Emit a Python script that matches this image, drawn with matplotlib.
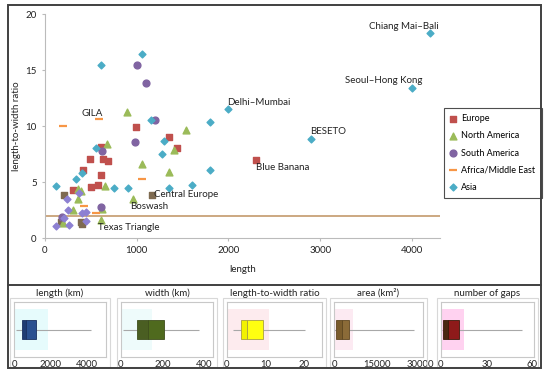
import matplotlib.pyplot as plt
from matplotlib.patches import Rectangle
from matplotlib.lines import Line2D

plt.rcParams['font.family'] = ['Lato', 'DejaVu Sans']

# scatter data: (length, length-to-width ratio)
europe_x = [992, 1352, 1440, 611, 491, 632, 687, 414, 611, 502, 578, 305, 2300]
europe_y = [9.9, 9.0, 8.0, 8.1, 7.05, 7.05, 6.85, 6.1, 5.6, 4.55, 4.7, 4.3, 7.0]
europe_dark_x = [207, 174, 393, 403, 1167]
europe_dark_y = [3.84, 1.45, 1.4, 1.25, 3.84]
namerica_x = [894, 1538, 1407, 676, 1058, 1352, 654, 360, 393, 360, 960, 305, 622, 196, 611]
namerica_y = [11.25, 9.6, 7.85, 8.4, 6.6, 5.9, 4.6, 4.4, 4.2, 3.5, 3.5, 2.5, 2.6, 1.35, 1.6]
samerica_x = [1003, 1101, 1200, 981, 622, 611, 185]
samerica_y = [15.45, 13.8, 10.5, 8.6, 7.8, 2.76, 1.85]
africa_x = [196, 589, 1058, 425, 556]
africa_y = [10.0, 10.6, 5.27, 2.86, 2.25]
asia_x = [4200, 4000, 2900, 2000, 1800, 1156, 1298, 1276, 1800, 1603, 1352, 611, 1058,
          556, 403, 338, 120, 752, 905]
asia_y = [18.3, 13.4, 8.8, 11.5, 10.4, 10.5, 8.7, 7.5, 6.05, 4.7, 4.5, 15.45, 16.4,
          8.0, 5.8, 5.3, 4.6, 4.46, 4.46]
other_x = [240, 371, 251, 403, 447, 207, 120, 262, 447]
other_y = [3.5, 4.0, 2.5, 2.2, 2.3, 1.8, 1.07, 1.15, 1.5]

labels = ["Chiang Mai–Bali", "Seoul–Hong Kong", "BESETO", "Delhi–Mumbai", "Blue Banana",
          "Central Europe", "Boswash", "Texas Triangle", "GILA"]
label_x = [3530, 3270, 2890, 1985, 2300, 1190, 927, 578, 403]
label_y = [18.9, 14.1, 9.5, 12.1, 6.3, 3.84, 2.85, 0.9, 11.1]
threshold = 2

# box panel data
box_titles = ["length (km)", "width (km)", "length-to-width ratio", "area (km\u00b2)", "number of gaps"]
box_whislo = [110, 10, 1.6, 100, 0.5]
box_q1 = [420, 79, 3.7, 800, 1.3]
box_med = [640, 130, 5.1, 2700, 4.7]
box_q3 = [1190, 207, 9.4, 5100, 12]
box_whishi = [4220, 376, 20.3, 27900, 53]
glow_lo = [55, 5, 0, -500, 0]
glow_hi = [1850, 150, 11, 6500, 15.3]
box_xmax = [5040, 443, 24.7, 31000, 61]
box_ticks = [[0, 2000, 4000], [0, 200, 400], [0, 10, 20], [0, 15000, 30000], [0, 30, 60]]
box_col_left = ["#1F3C73", "#4A5E22", "#F2F200", "#7A5C2C", "#4A2812"]
box_col_right = ["#2A5090", "#4F6A1E", "#FFFF10", "#8B6B38", "#8E1A1A"]
box_edge = ["#1A3060", "#3E4E1C", "#A8A040", "#5E4620", "#3A1A0A"]
glow_col = ["#E6FBFC", "#EEFBFB", "#FDEBEE", "#FCEAF2", "#FFD2F0"]

W, H = 550, 376
fig = plt.figure(figsize=(5.5, 3.76), dpi=100)

ax = fig.add_axes([45 / W, 1 - 238 / H, 395 / W, 224 / H])
ax.axhline(threshold, color='#C49A6C', lw=1.2, zorder=1)
ax.scatter(europe_x, europe_y, marker='s', s=20, color='#C0504D', label='Europe', zorder=3)
ax.scatter(europe_dark_x, europe_dark_y, marker='s', s=20, color='#7E6A50', zorder=3)
ax.scatter(namerica_x, namerica_y, marker='^', s=24, color='#9BBB59', label='North America', zorder=3)
ax.scatter(samerica_x, samerica_y, marker='o', s=24, color='#8064A2', label='South America', zorder=3)
ax.scatter(africa_x, africa_y, marker='_', s=30, linewidths=1.6, color='#F79646',
           label='Africa/Middle East', zorder=3)
ax.scatter(asia_x, asia_y, marker='D', s=12, color='#4BACC6', label='Asia', zorder=3)
ax.scatter(other_x, other_y, marker='D', s=12, color='#8D80D2', zorder=3)

for t, x, y in zip(labels, label_x, label_y):
    ax.text(x, y, t, fontsize=7, ha='left', va='center', color='#222222')

ax.set_xlim(0, 4307)
ax.set_ylim(0, 20)
ax.set_xticks([0, 1000, 2000, 3000, 4000])
ax.set_yticks([0, 5, 10, 15, 20])
ax.tick_params(labelsize=7, length=2.5, color='#BBBBBB', labelcolor='#222222')
for s in ['top', 'right']:
    ax.spines[s].set_visible(False)
for s in ['left', 'bottom']:
    ax.spines[s].set_color('#BBBBBB')
ax.set_xlabel('length', fontsize=7, color='#222222', labelpad=7)
ax.set_ylabel('length-to-width ratio', fontsize=7, color='#222222', labelpad=3)

leg = ax.legend(loc='upper left', bbox_to_anchor=(444 / W, 1 - 108 / H),
                bbox_transform=fig.transFigure, fontsize=6.5, frameon=True,
                fancybox=False, edgecolor='#222222', borderpad=0.7, labelspacing=0.9,
                handletextpad=0.7, handlelength=0.5, borderaxespad=0, scatterpoints=1)
leg.get_frame().set_linewidth(0.8)
leg.set_zorder(5)

# box panels
panel_x0 = [14, 121, 227, 334, 441]
panel_x1 = [106, 213, 322, 423, 534]
for i in range(5):
    x0, x1 = panel_x0[i], panel_x1[i]
    bx = fig.add_axes([x0 / W, 1 - 357 / H, (x1 - x0) / W, 55 / H])
    bx.set_xlim(0, box_xmax[i])
    bx.set_ylim(0, 1)
    bx.barh(0.5, glow_hi[i] - glow_lo[i], left=glow_lo[i], height=0.76,
            color=glow_col[i], zorder=1)
    bx.hlines(0.5, box_whislo[i], box_q1[i], color='#A8A8A8', lw=0.8, zorder=2)
    bx.hlines(0.5, box_q3[i], box_whishi[i], color='#A8A8A8', lw=0.8, zorder=2)
    bx.barh(0.5, box_med[i] - box_q1[i], left=box_q1[i], height=0.36,
            color=box_col_left[i], edgecolor=box_edge[i], lw=0.6, zorder=3)
    bx.barh(0.5, box_q3[i] - box_med[i], left=box_med[i], height=0.36,
            color=box_col_right[i], edgecolor=box_edge[i], lw=0.6, zorder=3)
    bx.set_xticks(box_ticks[i])
    bx.set_yticks([])
    bx.tick_params(labelsize=6.8, length=0, pad=2, labelcolor='#222222')
    for s in bx.spines.values():
        s.set_color('#C8C8C8')
        s.set_linewidth(0.8)
    fig.text((x0 + x1) / 2 / W, 1 - 293 / H, box_titles[i], fontsize=7,
             ha='center', va='center', color='#222222')
    fig.add_artist(Rectangle(((x0 - 4) / W, 1 - 367 / H), (x1 - x0 + 8) / W, 69 / H,
                             transform=fig.transFigure, fill=False,
                             edgecolor='#D8D8D8', lw=0.8))

# outer frame and divider
fig.add_artist(Rectangle((8 / W, 1 - 368 / H), 533 / W, 363 / H, transform=fig.transFigure,
                         fill=False, edgecolor='#404040', lw=1.4))
fig.add_artist(Line2D([8 / W, 541 / W], [1 - 285 / H, 1 - 285 / H],
                      transform=fig.transFigure, color='#404040', lw=1.4))

fig.savefig('out.png', dpi=100)
